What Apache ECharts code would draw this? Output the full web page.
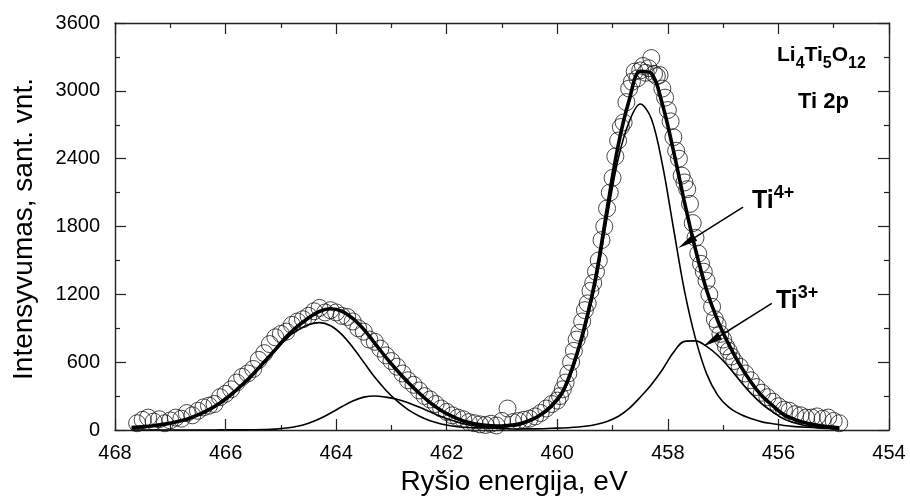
<!DOCTYPE html>
<html>
<head>
<meta charset="utf-8">
<script src="https://cdn.jsdelivr.net/npm/echarts@6/dist/echarts.min.js"></script>
<style>
html,body{margin:0;padding:0;background:#fff;}
#chart{width:910px;height:498px;}
</style>
</head>
<body>
<div id="chart"></div>
<script>
// ---- data ----
var xTicks = [468, 466, 464, 462, 460, 458, 456, 454];
var yTicks = [0, 600, 1200, 1800, 2400, 3000, 3600];

// fitted curves, sampled in binding energy (eV)
var fitE = [467.7,467.5,467.3,467.1,466.9,466.7,466.5,466.3,466.1,465.9,465.7,465.5,465.3,465.1,464.9,464.7,464.5,464.3,464.1,463.9,463.7,463.5,463.3,463.1,462.9,462.7,462.5,462.3,462.1,461.9,461.7,461.5,461.3,461.1,460.9,460.7,460.5,460.3,460.1,459.9,459.7,459.5,459.3,459.1,458.9,458.7,458.5,458.3,458.1,457.9,457.7,457.5,457.3,457.1,456.9,456.7,456.5,456.3,456.1,455.9,455.7,455.5,455.3,455.1,454.9];
var ti4Fit = [21,28,38,52,71,95,133,180,238,313,399,494,598,703,807,883,931,950,922,846,732,599,466,352,257,181,124,81,53,35,24,19,18,20,29,43,74,125,202,323,565,894,1313,1875,2395,2726,2883,2755,2351,1789,1232,808,499,309,202,141,101,72,55,40,30,24,20,15,12];
var ti3Fit = [0,0,0,0,0,0,0,0,1,1,1,2,4,8,17,33,60,99,150,205,256,291,301,291,272,242,203,161,119,85,55,36,23,15,11,9,10,11,15,18,24,33,49,76,119,191,290,400,533,685,784,788,740,661,557,438,326,231,159,96,62,37,21,13,8];
var envelopeFit = [21,28,38,52,71,95,133,180,239,314,400,496,602,711,824,916,991,1049,1072,1051,988,890,767,643,529,423,327,242,172,120,79,55,41,35,40,52,84,136,217,341,589,927,1362,1951,2514,2917,3173,3155,2884,2474,2016,1596,1239,970,759,579,427,303,214,136,92,61,41,28,20];

// measured points
var expE = [467.6,467.5,467.4,467.3,467.2,467.1,467.0,466.9,466.8,466.7,466.6,466.5,466.4,466.3,466.2,466.1,466.0,465.9,465.8,465.7,465.6,465.5,465.4,465.3,465.2,465.1,465.0,464.9,464.8,464.7,464.6,464.5,464.4,464.3,464.2,464.1,464.0,463.9,463.8,463.7,463.6,463.5,463.4,463.3,463.2,463.1,463.0,462.9,462.8,462.7,462.6,462.5,462.4,462.3,462.2,462.1,462.0,461.9,461.8,461.7,461.6,461.5,461.4,461.3,461.2,461.1,461.0,460.9,460.8,460.7,460.6,460.5,460.4,460.3,460.2,460.1,460.0,459.95,459.9,459.85,459.8,459.75,459.7,459.65,459.6,459.55,459.5,459.45,459.4,459.35,459.3,459.25,459.2,459.15,459.1,459.05,459.0,458.95,458.9,458.85,458.8,458.75,458.7,458.65,458.6,458.55,458.5,458.45,458.4,458.35,458.3,458.25,458.2,458.15,458.1,458.05,458.0,457.95,457.9,457.85,457.8,457.75,457.7,457.65,457.6,457.55,457.5,457.45,457.4,457.35,457.3,457.25,457.2,457.15,457.1,457.05,457.0,456.95,456.9,456.85,456.8,456.7,456.6,456.5,456.4,456.3,456.2,456.1,456.0,455.9,455.8,455.7,455.6,455.5,455.4,455.3,455.2,455.1,455.0,454.9];
var expI = [60,90,110,75,95,60,85,110,100,150,130,170,200,215,230,290,320,360,420,470,500,540,620,680,760,820,850,870,930,960,980,1010,1050,1080,1040,1060,1040,1010,1000,960,900,870,800,780,720,660,610,560,500,440,400,350,300,270,230,190,160,130,110,95,70,60,50,45,55,40,80,190,70,80,90,100,120,150,190,230,260,300,360,420,500,600,700,800,860,960,1060,1120,1230,1300,1400,1500,1680,1800,1960,2100,2230,2420,2560,2680,2720,2900,3020,3080,3170,3110,3180,3220,3160,3200,3290,3150,3130,3140,3020,2940,2830,2730,2590,2470,2400,2250,2190,2130,2000,1830,1700,1560,1470,1400,1320,1200,1090,980,930,850,800,740,700,650,610,560,500,440,380,330,290,250,210,180,170,140,130,110,110,120,100,110,80,60];

// ---- chart ----
var chart = echarts.init(document.getElementById('chart'), null, {renderer: 'canvas'});
var FONT = '"Liberation Sans", Arial, sans-serif';
function pairs(xs, ys) { return xs.map(function (x, i) { return [x, ys[i]]; }); }

var axisLineStyle = {color: '#222', width: 1.4};
var tickStyle = {color: '#222', width: 1.2};
function xAxisCfg(pos, showLabel) {
  return {
    type: 'value', position: pos, min: xTicks[xTicks.length - 1], max: xTicks[0], interval: 2, inverse: true,
    axisLine: {show: true, onZero: false, lineStyle: axisLineStyle},
    axisTick: {show: true, inside: true, length: 11, lineStyle: tickStyle},
    minorTick: {show: true, splitNumber: 2, length: 5, lineStyle: tickStyle},
    splitLine: {show: false}, minorSplitLine: {show: false},
    axisLabel: {show: showLabel, color: '#000', fontFamily: FONT, fontSize: 20, margin: 13,
      formatter: function (v) { return String(v); }}
  };
}
function yAxisCfg(pos, showLabel) {
  return {
    type: 'value', position: pos, min: yTicks[0], max: yTicks[yTicks.length - 1], interval: 600,
    axisLine: {show: true, onZero: false, lineStyle: axisLineStyle},
    axisTick: {show: true, inside: true, length: 11, lineStyle: tickStyle},
    minorTick: {show: true, splitNumber: 2, length: 5, lineStyle: tickStyle},
    splitLine: {show: false}, minorSplitLine: {show: false},
    axisLabel: {show: showLabel, color: '#000', fontFamily: FONT, fontSize: 20, margin: 15,
      formatter: function (v) { return String(v); }}
  };
}

var supRich = {
  m: {fontFamily: FONT, fontWeight: 'bold', fontSize: 25, lineHeight: 30, verticalAlign: 'bottom', fill: '#000'},
  p: {fontFamily: FONT, fontWeight: 'bold', fontSize: 18, lineHeight: 30, verticalAlign: 'top', fill: '#000'}
};

var option = {
  animation: false,
  backgroundColor: '#fff',
  grid: {left: 115, top: 23, right: 21, bottom: 68, containLabel: false},
  xAxis: [xAxisCfg('bottom', true), xAxisCfg('top', false)],
  yAxis: [yAxisCfg('left', true), yAxisCfg('right', false)],
  series: [
    {
      type: 'scatter', xAxisIndex: 0, yAxisIndex: 0,
      data: pairs(expE, expI), symbol: 'circle', symbolSize: 17,
      itemStyle: {color: 'rgba(255,255,255,0)', borderColor: '#1a1a1a', borderWidth: 1},
      silent: true, z: 2
    },
    {
      type: 'line', xAxisIndex: 0, yAxisIndex: 0, data: pairs(fitE, ti4Fit),
      showSymbol: false, smooth: 0.35, lineStyle: {color: '#000', width: 1.6}, z: 3, silent: true
    },
    {
      type: 'line', xAxisIndex: 0, yAxisIndex: 0, data: pairs(fitE, ti3Fit),
      showSymbol: false, smooth: 0.35, lineStyle: {color: '#000', width: 1.6}, z: 3, silent: true
    },
    {
      type: 'line', xAxisIndex: 0, yAxisIndex: 0, data: pairs(fitE, envelopeFit),
      showSymbol: false, smooth: 0.35, lineStyle: {color: '#000', width: 3.6}, z: 4, silent: true,
      markLine: {
        silent: true, animation: false,
        symbol: ['none', 'triangle'], symbolSize: [8, 20],
        lineStyle: {color: '#000', width: 1.5, type: 'solid'},
        label: {show: false},
        data: [
          [{coord: [456.64, 1972]}, {coord: [457.66, 1657]}],
          [{coord: [456.12, 1121]}, {coord: [457.21, 785]}]
        ]
      }
    }
  ],
  graphic: [
    {
      type: 'text', x: 24, y: 229, rotation: Math.PI / 2, silent: true,
      style: {text: 'Intensyvumas, sant. vnt.', font: '28px ' + FONT, fill: '#000', textAlign: 'center', textVerticalAlign: 'middle'}
    },
    {
      type: 'text', x: 514, y: 482, silent: true,
      style: {text: 'Ryšio energija, eV', font: '28px ' + FONT, fill: '#000', textAlign: 'center', textVerticalAlign: 'middle'}
    },
    {
      type: 'text', x: 777, y: 58, silent: true,
      style: {
        text: '{m|Li}{s|4}{m|Ti}{s|5}{m|O}{s|12}', textVerticalAlign: 'middle',
        rich: {
          m: {fontFamily: FONT, fontWeight: 'bold', fontSize: 21, lineHeight: 27, verticalAlign: 'top', fill: '#000'},
          s: {fontFamily: FONT, fontWeight: 'bold', fontSize: 16, lineHeight: 27, verticalAlign: 'bottom', fill: '#000'}
        }
      }
    },
    {
      type: 'text', x: 798, y: 102, silent: true,
      style: {text: 'Ti 2p', font: 'bold 22px ' + FONT, fill: '#000', textVerticalAlign: 'middle'}
    },
    {
      type: 'text', x: 752, y: 199, silent: true,
      style: {text: '{m|Ti}{p|4+}', textVerticalAlign: 'middle', rich: supRich}
    },
    {
      type: 'text', x: 776, y: 299, silent: true,
      style: {text: '{m|Ti}{p|3+}', textVerticalAlign: 'middle', rich: supRich}
    }
  ]
};
chart.setOption(option);
</script>
</body>
</html>
